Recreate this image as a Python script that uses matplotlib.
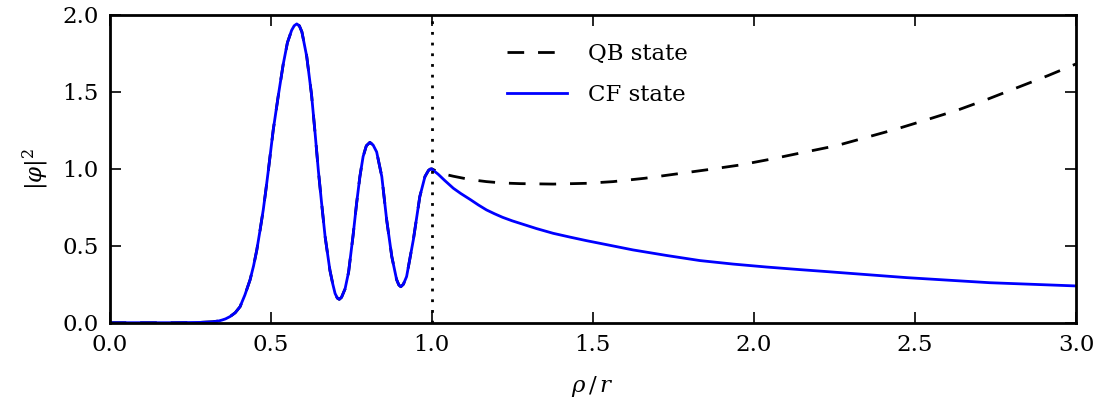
import matplotlib
matplotlib.use("Agg")
import matplotlib.pyplot as plt
import numpy as np

# |phi|^2 inside the wire (rho/r <= 1), shared by both states
rho_in = [0.00, 0.10, 0.20, 0.28, 0.30, 0.32, 0.34, 0.35, 0.36, 0.374, 0.39, 0.405,
          0.42, 0.436, 0.447, 0.457, 0.467, 0.477, 0.485, 0.493, 0.508, 0.524,
          0.539, 0.552, 0.565, 0.573, 0.581, 0.589, 0.597, 0.612, 0.627, 0.638,
          0.648, 0.658, 0.669, 0.684, 0.693, 0.700, 0.707, 0.713, 0.720, 0.731,
          0.742, 0.756, 0.767, 0.777, 0.787, 0.797, 0.808, 0.818, 0.829, 0.845,
          0.860, 0.876, 0.891, 0.898, 0.904, 0.912, 0.922, 0.943, 0.963, 0.979,
          0.990, 0.995, 1.000]
phi_in = [0.000, 0.000, 0.000, 0.002, 0.004, 0.006, 0.012, 0.018, 0.025, 0.040, 0.065, 0.104,
          0.180, 0.278, 0.370, 0.473, 0.600, 0.733, 0.860, 0.993, 1.253, 1.480,
          1.680, 1.820, 1.900, 1.930, 1.942, 1.930, 1.890, 1.730, 1.480, 1.230,
          0.990, 0.780, 0.560, 0.340, 0.250, 0.190, 0.160, 0.152, 0.165, 0.220,
          0.330, 0.570, 0.780, 0.950, 1.080, 1.150, 1.172, 1.155, 1.110, 0.950,
          0.670, 0.430, 0.280, 0.245, 0.234, 0.250, 0.300, 0.540, 0.820, 0.950,
          0.990, 0.998, 1.000]

# Outside the wire: continuum-free (CF) state
rho_cf = [1.000, 1.005, 1.020, 1.040, 1.067, 1.090, 1.120, 1.145, 1.170, 1.195,
          1.220, 1.250, 1.274, 1.325, 1.377, 1.430, 1.481, 1.522, 1.625, 1.729,
          1.832, 1.936, 2.039, 2.143, 2.215, 2.474, 2.732, 3.000]
phi_cf = [1.000, 0.990, 0.965, 0.925, 0.874, 0.840, 0.800, 0.765, 0.733, 0.708,
          0.685, 0.662, 0.646, 0.612, 0.581, 0.556, 0.533, 0.516, 0.473, 0.437,
          0.404, 0.381, 0.362, 0.345, 0.334, 0.293, 0.260, 0.239]

# Outside the wire: quasi-bound (QB) state
rho_qb = [1.000, 1.020, 1.040, 1.067, 1.120, 1.170, 1.220, 1.274, 1.377, 1.481,
          1.563, 1.662, 1.760, 1.858, 1.957, 2.055, 2.133, 2.257, 2.350, 2.443,
          2.541, 2.634, 2.727, 2.820, 2.913, 3.000]
phi_qb = [1.000, 0.980, 0.965, 0.952, 0.930, 0.917, 0.908, 0.904, 0.901, 0.906,
          0.917, 0.939, 0.967, 0.995, 1.025, 1.064, 1.098, 1.151, 1.205, 1.259,
          1.322, 1.383, 1.454, 1.530, 1.606, 1.682]

labels = ["QB state", "CF state"]

plt.rcParams["font.family"] = ["DejaVu Serif"]
plt.rcParams["mathtext.fontset"] = "dejavuserif"
plt.rcParams["font.size"] = 16.5

fig = plt.figure(figsize=(10.98, 4.04), dpi=100)
ax = fig.add_axes([0.0998, 0.2012, 0.8802, 0.7617])

x_qb = np.concatenate([rho_in, rho_qb[1:]])
y_qb = np.concatenate([phi_in, phi_qb[1:]])
x_cf = np.concatenate([rho_in, rho_cf[1:]])
y_cf = np.concatenate([phi_in, phi_cf[1:]])

ax.plot(x_qb, y_qb, color="black", lw=2, linestyle=(0, (6, 5)),
        solid_joinstyle="round", label=labels[0])
ax.plot(x_cf, y_cf, color="blue", lw=2, solid_joinstyle="round", label=labels[1])
ax.axvline(1.0, color="black", lw=2, linestyle=(0, (1, 2.85)))

ax.set_xlim(0, 3)
ax.set_ylim(0, 2)
ax.set_xticks(np.arange(0, 3.01, 0.5))
ax.set_yticks(np.arange(0, 2.01, 0.5))
ax.set_xticklabels([f"{v:.1f}" for v in np.arange(0, 3.01, 0.5)])
ax.set_yticklabels([f"{v:.1f}" for v in np.arange(0, 2.01, 0.5)])
ax.tick_params(direction="in", top=True, right=True, length=8, width=1.2, pad=8)
for s in ax.spines.values():
    s.set_linewidth(2)

ax.set_xlabel(r"$\rho\,/\,r$", labelpad=13)
ax.set_ylabel(r"$|\varphi|^2$", labelpad=8)

ax.legend(loc="upper left", bbox_to_anchor=(0.39, 0.975), frameon=False,
          handlelength=2.6, handletextpad=0.95, labelspacing=0.8)

fig.savefig("out.png", dpi=100)
